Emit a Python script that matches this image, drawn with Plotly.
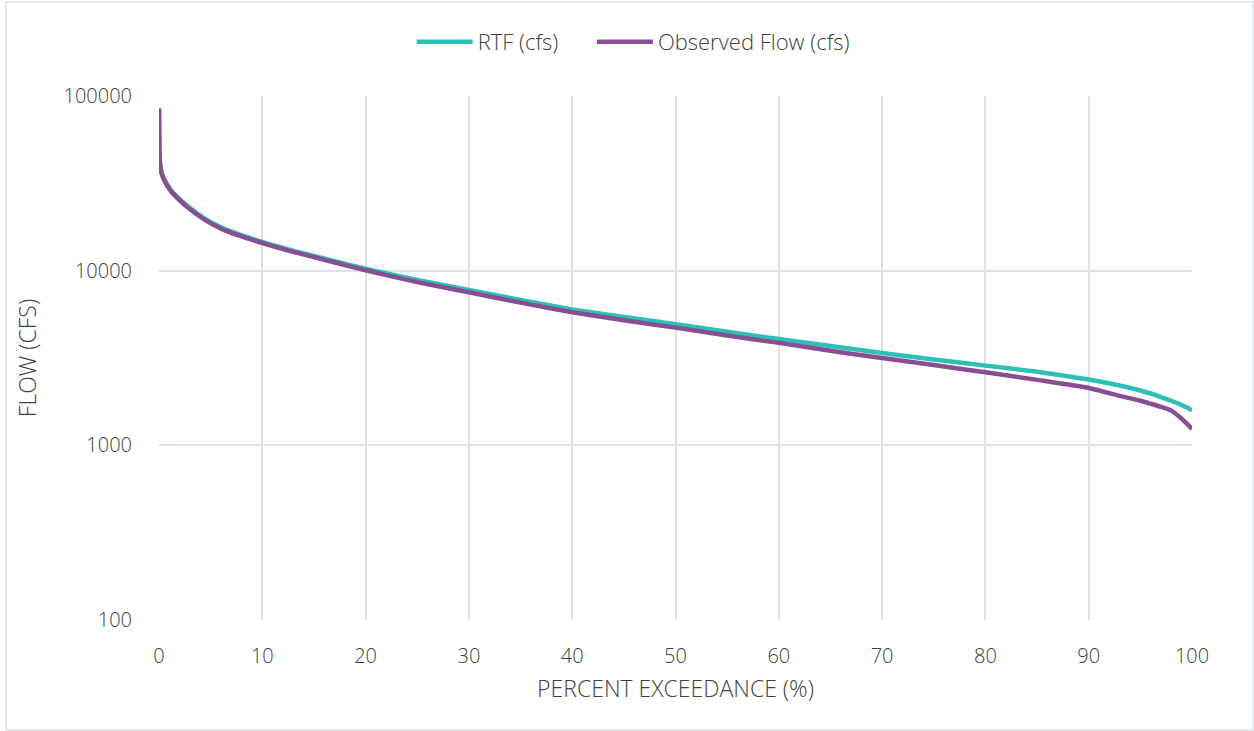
import plotly.graph_objects as go

pct = [0, 0.02, 0.05, 0.1, 0.25, 0.5, 0.75, 1.2, 2, 2.8, 4.4, 6, 7.7, 10, 12.5, 15, 17.5, 20,
       25, 30, 35, 40, 45, 50, 55, 60, 65, 70, 75, 80, 85, 90, 93, 95, 96, 97, 98, 99, 99.5, 100]
rtf = [83000, 62000, 46000, 41500, 36500, 33500, 31500, 28700, 25700, 23400, 19900, 17700, 16200, 14600,
       13250, 12150, 11150, 10250,
       8850, 7760, 6800, 6000, 5430, 4940, 4470, 4060, 3700, 3380, 3100, 2860, 2640, 2380,
       2200, 2060, 1980, 1890, 1800, 1700, 1650, 1580]
obs = [85000, 62000, 46000, 41000, 36000, 33000, 31000, 28300, 25300, 23000, 19600, 17400, 15900, 14400,
       13050, 11950, 10950, 10050,
       8600, 7520, 6560, 5780, 5200, 4720, 4250, 3860, 3480, 3160, 2880, 2620, 2370, 2130,
       1920, 1800, 1730, 1660, 1580, 1420, 1330, 1240]

y_ticks = [100, 1000, 10000, 100000]
y_labels = ["100", "1000", "10000", "100000"]
x_ticks = [0, 10, 20, 30, 40, 50, 60, 70, 80, 90, 100]

fig = go.Figure()
fig.add_trace(go.Scatter(x=pct, y=rtf, mode="lines", name="RTF (cfs)" + "\u00a0" * 5,
                         line=dict(color="#2EC0B8", width=4.5, shape="spline", smoothing=0.5)))
fig.add_trace(go.Scatter(x=pct, y=obs, mode="lines", name="Observed Flow (cfs)",
                         line=dict(color="#884E92", width=4.5, shape="spline", smoothing=0.5)))

grid = "#D9E3EC"
txt = "#404040"
fnt = "Open Sans, Segoe UI, sans-serif"
fig.update_layout(
    width=1254, height=731,
    margin=dict(l=159, r=62, t=96, b=111),
    paper_bgcolor="white", plot_bgcolor="white",
    font=dict(family=fnt, size=20, color=txt, weight=300),
    showlegend=True,
    legend=dict(orientation="h", x=0.459, xanchor="center", y=1.103, yanchor="middle",
                font=dict(size=22, color=txt, weight=300), itemwidth=56, traceorder="normal"),
    xaxis=dict(range=[0, 100], tickvals=x_ticks, showgrid=True, gridcolor=grid, gridwidth=1.5,
               zeroline=False, showline=False, ticks="outside", ticklen=0, tickcolor="white",
               ticklabelstandoff=18,
               tickfont=dict(size=20, color=txt, weight=300),
               title=dict(text="PERCENT EXCEEDANCE (%)", font=dict(size=23, color=txt, weight=300), standoff=12)),
    yaxis=dict(type="log", range=[2, 5], tickvals=y_ticks, ticktext=y_labels, showgrid=True,
               gridcolor=grid, gridwidth=1.5, zeroline=False, showline=False, ticks="outside",
               ticklen=0, tickcolor="white", ticklabelstandoff=22,
               tickfont=dict(size=20, color=txt, weight=300),
               title=dict(text="FLOW (CFS)", font=dict(size=23, color=txt, weight=300), standoff=20)),
)

# outer chart border
pw, ph = 1254 - 159 - 62, 731 - 96 - 111
def px(xp):
    return (xp - 159) / pw
def py(yp):
    return (731 - 111 - yp) / ph
fig.add_shape(type="rect", xref="paper", yref="paper",
              x0=px(6), x1=px(1253), y0=py(730), y1=py(2),
              line=dict(color="#D9E3EC", width=1.5), fillcolor="rgba(0,0,0,0)", layer="below")

fig.write_html("out.html", config={"displayModeBar": False},
               post_script="document.body.style.margin='0px';")
